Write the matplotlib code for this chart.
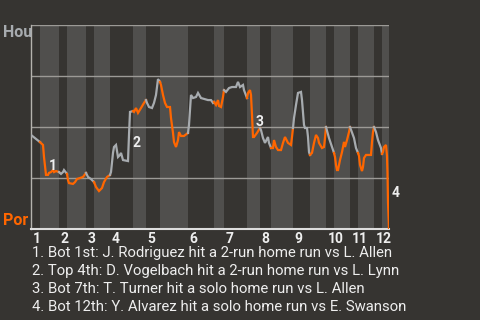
import numpy as np
import matplotlib
import matplotlib.pyplot as plt

matplotlib.use("Agg")

# Inicio de cada media entrada (en lanzamientos) y fin del juego
half_inning_starts = [0, 9, 28, 36, 55, 63, 79, 102, 115, 129, 157, 183,
                      193, 216, 229, 240, 262, 279, 295, 303, 319, 327, 343, 351]
game_end = 358
inning_labels = [str(i) for i in range(1, 13)]

# Probabilidad de victoria de Houston (%) por lanzamiento
pitch = [0, 9, 12, 13, 15, 17, 18, 20, 22, 23, 25, 28, 30, 32, 33, 36, 37, 38, 42, 44,
         46, 49, 52, 55, 57, 60, 63, 65, 68, 71, 73, 76, 79, 80, 82, 83, 85, 87, 89, 90,
         92, 97, 98, 99, 102, 103, 105, 107, 110, 113, 115, 116, 118, 121, 123, 125, 127, 129, 130, 132,
         134, 136, 139, 140, 142, 143, 145, 147, 148, 150, 153, 157, 158, 160, 162, 165, 167, 170, 177, 180,
         182, 183, 185, 187, 188, 190, 192, 193, 195, 198, 201, 205, 207, 209, 212, 213, 216, 217, 219, 220,
         221, 222, 223, 226, 229, 230, 232, 234, 237, 238, 240, 242, 243, 245, 247, 250, 252, 254, 257, 260,
         261, 262, 263, 265, 267, 270, 271, 273, 274, 276, 277, 278, 279, 281, 283, 285, 287, 288, 291, 293,
         294, 295, 298, 301, 303, 304, 305, 306, 307, 309, 311, 313, 314, 316, 318, 319, 323, 325, 327, 328,
         329, 331, 332, 333, 335, 340, 341, 342, 343, 345, 347, 350, 351, 352, 353, 355, 356, 356.5, 357, 358]
hou_wp = [46.1, 42.6, 41.2, 35.3, 26.5, 26.5, 27.5, 27.9, 28.9, 27.9, 28.4, 27.9, 27.0, 27.9, 28.9, 27.0, 24.0, 22.5, 22.1, 23.0,
          24.5, 25.0, 25.5, 27.5, 25.5, 24.5, 23.0, 20.6, 18.6, 20.1, 23.0, 25.5, 26.5, 27.9, 37.3, 40.2, 41.2, 35.3, 36.3, 37.3,
          33.8, 33.3, 46.1, 57.4, 57.8, 57.4, 59.3, 56.9, 59.3, 61.8, 63.2, 61.8, 59.8, 59.3, 61.8, 65.7, 73.5, 72.1, 70.6, 65.7,
          61.8, 59.8, 59.8, 54.4, 47.1, 42.6, 40.2, 43.6, 47.5, 45.6, 45.6, 47.1, 51.0, 65.7, 64.2, 64.7, 66.7, 64.2, 63.2, 63.2,
          61.8, 62.3, 60.8, 63.2, 60.3, 59.8, 64.7, 68.1, 67.2, 69.1, 69.6, 69.6, 72.1, 69.6, 70.6, 68.1, 64.2, 66.7, 68.1, 65.7,
          55.9, 45.1, 45.1, 47.1, 49.5, 48.5, 44.6, 42.2, 45.1, 42.2, 39.7, 39.7, 43.6, 40.2, 38.7, 38.7, 42.2, 45.1, 42.2, 41.2,
          45.1, 49.5, 54.4, 60.8, 66.7, 67.2, 63.2, 51.0, 49.5, 49.5, 45.1, 37.7, 36.3, 37.3, 42.2, 46.1, 44.6, 42.2, 39.7, 40.2,
          44.6, 50.0, 44.6, 40.2, 37.3, 35.3, 31.4, 28.9, 28.9, 33.8, 37.7, 42.7, 40.2, 43.6, 47.5, 50.0, 44.6, 39.7, 37.3, 35.8,
          31.4, 28.4, 30.4, 34.8, 36.3, 36.3, 42.7, 47.5, 50.0, 47.5, 43.6, 39.7, 36.8, 37.7, 40.2, 41.2, 35.8, 27.5, 13.2, 0.0]

# Jugadas destacadas
event_start = [12, 97, 220, 355]
event_end = [15, 99, 222, 358]
event_notes = [
    "1. Bot 1st: J. Rodriguez hit a 2-run home run vs L. Allen",
    "2. Top 4th: D. Vogelbach hit a 2-run home run vs L. Lynn",
    "3. Bot 7th: T. Turner hit a solo home run vs L. Allen",
    "4. Bot 12th: Y. Alvarez hit a solo home run vs E. Swanson",
]

fondo = "#363431"
franja = "#504f4d"
gris = "#a7abaf"
naranja = "#ff6600"
texto = "#eeeeee"
plt.rcParams["font.family"] = ["Roboto", "DejaVu Sans"]

x = np.array(pitch)
y = np.array(hou_wp)

fig = plt.figure(figsize=(4.8, 3.2), dpi=100, facecolor=fondo)
ax = fig.add_axes([31 / 480, 91 / 320, 358 / 480, 204 / 320])
ax.set_facecolor(fondo)

limites = half_inning_starts + [game_end]
for i in range(len(half_inning_starts)):
    ini, fin = limites[i], limites[i + 1]
    if i % 2 == 1:
        ax.axvspan(ini, fin, color=franja, lw=0, zorder=0)

for nivel in [25, 50, 75, 100]:
    ax.axhline(nivel, color="#9c9a96", lw=1, zorder=1)

#Dibujo la linea por media entrada, gris arriba y naranja abajo
for i in range(len(half_inning_starts)):
    ini, fin = limites[i], limites[i + 1]
    sel = (x >= ini) & (x <= fin)
    color = gris if i % 2 == 0 else naranja
    ax.plot(x[sel], y[sel], color=color, lw=1.6, zorder=3, solid_joinstyle="miter")

for n in range(len(event_start)):
    antes = np.interp(event_start[n], x, y)
    despues = np.interp(event_end[n], x, y)
    ax.annotate(str(n + 1), xy=(event_end[n], (antes + despues) / 2), xytext=(2, -4.5),
                textcoords="offset points", ha="left", va="center", color=texto,
                fontsize=10, fontweight="bold", zorder=4)

ax.set_xlim(0, game_end)
ax.set_ylim(0, 100)
ax.set_xticks([])
ax.set_yticks([])
for lado in ["top", "right"]:
    ax.spines[lado].set_visible(False)
ax.spines["left"].set_color("#b5b3ae")
ax.spines["left"].set_linewidth(1)
ax.spines["bottom"].set_color("#dddddd")
ax.spines["bottom"].set_linewidth(1.5)

for n, etiqueta in enumerate(inning_labels):
    ax.annotate(etiqueta, xy=(half_inning_starts[2 * n], 0), xycoords=("data", "axes fraction"),
                xytext=(1, -2), textcoords="offset points", ha="left", va="top",
                color=texto, fontsize=10, fontweight="bold")

fig.text(3 / 480, 1 - 25 / 320, "Hou", color=gris, fontsize=11.5, fontweight="bold", va="top", ha="left")
fig.text(3 / 480, 1 - 225 / 320, "Por", color=naranja, fontsize=11.5, fontweight="bold", va="baseline", ha="left")

for n, nota in enumerate(event_notes):
    fig.text(32 / 480, 1 - (253 + 18 * n) / 320, nota, color=texto, fontsize=10.7, va="center", ha="left")

plt.savefig("out.png", dpi=100, facecolor=fondo)
